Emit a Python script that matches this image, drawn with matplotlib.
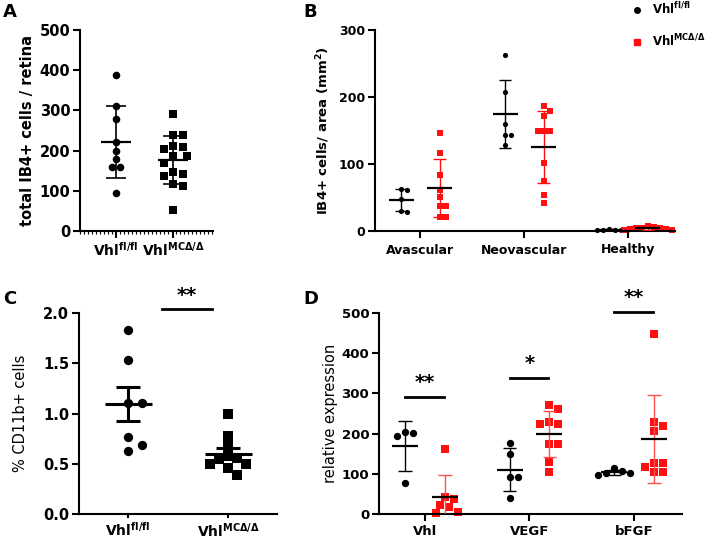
import numpy as np
import matplotlib
matplotlib.use('Agg')
import matplotlib.pyplot as plt
from matplotlib.lines import Line2D
from matplotlib.ticker import MultipleLocator

plt.rcParams['font.family'] = ['DejaVu Sans']
plt.rcParams['font.weight'] = 'bold'
plt.rcParams['mathtext.default'] = 'bf'
plt.rcParams['axes.linewidth'] = 1.5

RED = '#ff1010'

# ---- data ----
# A: total IB4+ cells / retina
a_groups = ['Vhl$^{fl/fl}$', 'Vhl$^{MCΔ/Δ}$']
a_fl = [388, 311, 278, 222, 199, 178, 159, 159, 95]
a_mc = [292, 239, 239, 212, 209, 204, 187, 187, 168, 147, 143, 136, 118, 112, 53]

# B: IB4+ cells / area
b_categories = ['Avascular', 'Neovascular', 'Healthy']
b_fl = [[63, 61, 48, 30, 28],
        [262, 207, 160, 144, 144, 128],
        [1, 2, 1.5, 2, 1, 2.5]]
b_mc = [[146, 117, 84, 61, 51, 37, 37, 21, 21],
        [186, 179, 172, 149, 149, 149, 101, 74, 53, 42],
        [2, 3, 5, 8, 4, 3, 6, 2, 4]]

# C: % CD11b+ cells
c_fl = [1.83, 1.53, 1.10, 1.10, 0.77, 0.69, 0.63]
c_mc = [1.00, 0.78, 0.68, 0.58, 0.56, 0.55, 0.50, 0.50, 0.46, 0.39]
c_sig = '**'
c_sig_y = 2.04

# D: relative expression
d_genes = ['Vhl', 'VEGF', 'bFGF']
d_fl = [[205, 201, 195, 76],
        [176, 149, 93, 93, 41],
        [114, 106, 103, 101, 96]]
d_mc = [[162, 43, 37, 22, 17, 5, 2],
        [272, 261, 228, 224, 224, 174, 174, 130, 104],
        [448, 230, 219, 207, 126, 126, 118, 104, 104]]
d_sig = ['**', '*', '**']
d_sig_y = [291, 338, 502]

fig = plt.figure(figsize=(7.08, 5.4), dpi=100)
W, H = 708, 540


def ax_px(l, t, r, b):
    return fig.add_axes([l / W, 1 - b / H, (r - l) / W, (b - t) / H])


def style(ax, fs, ylabel, ylab_x, ylab_fs, ylab_w='bold'):
    ax.spines['top'].set_visible(False)
    ax.spines['right'].set_visible(False)
    ax.tick_params(width=1.5, length=5, labelsize=fs, pad=2)
    ax.set_ylabel(ylabel, fontsize=ylab_fs, fontweight=ylab_w)
    ax.yaxis.set_label_coords(ylab_x, 0.5)


def swarm(ax, x0, vals, d):
    # simple beeswarm in pixel space
    vals = np.asarray(vals, float)
    pts = ax.transData.transform(np.column_stack([np.full(len(vals), x0), vals]))
    xs = np.empty(len(vals))
    placed = []
    for i in np.argsort(-vals):
        px, py = pts[i]
        for k in range(60):
            off = ((k + 1) // 2) * (1 if k % 2 else -1) * d * 0.5
            ok = all((px + off - qx) ** 2 + (py - qy) ** 2 >= (d * 0.98) ** 2 for qx, qy in placed)
            if ok:
                break
        placed.append((px + off, py))
        xs[i] = ax.transData.inverted().transform((px + off, py))[0]
    return xs


def points(ax, x0, vals, color, marker, size, d):
    xs = swarm(ax, x0, vals, d)
    ax.scatter(xs, vals, s=size, c=color, marker=marker, linewidths=0, zorder=2, clip_on=False)


def stats(ax, x0, vals, hm, hc, ecolor, lw_m, lw_e, sem=False):
    v = np.asarray(vals, float)
    m = v.mean()
    e = v.std(ddof=1)
    if sem:
        e = e / np.sqrt(len(v))
    ax.vlines(x0, m - e, m + e, color=ecolor, lw=lw_e, zorder=3)
    ax.hlines([m - e, m + e], x0 - hc, x0 + hc, color=ecolor, lw=lw_e, zorder=3)
    ax.hlines(m, x0 - hm, x0 + hm, color='black', lw=lw_m, zorder=3)


# ---------------- A ----------------
axA = ax_px(80, 30, 213, 231)
axA.set_xlim(-0.63, 1.70)
axA.set_ylim(0, 500)
axA.set_yticks([0, 100, 200, 300, 400, 500])
axA.set_xticks([0, 1])
axA.set_xticklabels(a_groups)
axA.xaxis.set_minor_locator(MultipleLocator(0.07))
axA.tick_params(axis='x', which='minor', length=2, width=0.8)
style(axA, 10.5, 'total IB4+ cells / retina', -0.34, 10.5)
axA.tick_params(axis='x', labelsize=10)
points(axA, 0, a_fl, 'black', 'o', 30, 8)
points(axA, 1, a_mc, 'black', 's', 30, 9.5)
stats(axA, 0, a_fl, 0.27, 0.17, 'black', 1.6, 1.2)
stats(axA, 1, a_mc, 0.27, 0.17, 'black', 1.6, 1.2)

# ---------------- B ----------------
axB = ax_px(375, 30, 675, 231)
axB.set_xlim(-0.43, 2.45)
axB.set_ylim(0, 300)
axB.set_yticks([0, 100, 200, 300])
axB.set_xticks(range(len(b_categories)))
axB.set_xticklabels(b_categories)
style(axB, 9, 'IB4+ cells/ area (mm$^2$)', -0.143, 9.5)
axB.tick_params(axis='x', pad=4)
for i in range(len(b_categories)):
    points(axB, i - 0.18, b_fl[i], 'black', 'o', 14, 6)
    points(axB, i + 0.19, b_mc[i], RED, 's', 14, 6)
    stats(axB, i - 0.18, b_fl[i], 0.12, 0.06, 'black', 1.6, 1.0)
    stats(axB, i + 0.19, b_mc[i], 0.12, 0.06, RED, 1.6, 1.0)

handles = [Line2D([], [], ls='none', marker='o', color='black', markersize=4),
           Line2D([], [], ls='none', marker='s', color=RED, markersize=4)]
fig.legend(handles, a_groups, loc='upper left', bbox_to_anchor=(630 / W, 1 + 1 / H),
           frameon=False, fontsize=8.5, labelspacing=1.3, handletextpad=0.9,
           handlelength=0.8, borderaxespad=0, borderpad=0.2)

# ---------------- C ----------------
axC = ax_px(79, 313, 277, 514)
axC.set_xlim(-0.49, 1.49)
axC.set_ylim(0, 2.0)
axC.set_yticks([0.0, 0.5, 1.0, 1.5, 2.0])
axC.set_yticklabels(['0.0', '0.5', '1.0', '1.5', '2.0'])
axC.set_xticks([0, 1])
axC.set_xticklabels(a_groups)
style(axC, 10.5, '% CD11b+ cells', -0.26, 10.5, 'normal')
axC.tick_params(axis='x', length=3, labelsize=10)
points(axC, 0, c_fl, 'black', 'o', 45, 14)
points(axC, 1, c_mc, 'black', 's', 45, 9)
stats(axC, 0, c_fl, 0.235, 0.12, 'black', 2.2, 2.2, sem=True)
stats(axC, 1, c_mc, 0.235, 0.12, 'black', 2.2, 2.2, sem=True)
axC.plot([0.34, 0.84], [c_sig_y, c_sig_y], color='black', lw=2, clip_on=False)
axC.text(0.59, c_sig_y + 0.04, c_sig, ha='center', va='bottom', fontsize=14, fontweight='bold')

# ---------------- D ----------------
axD = ax_px(379, 313, 682, 514)
axD.set_xlim(-0.44, 2.46)
axD.set_ylim(0, 500)
axD.set_yticks([0, 100, 200, 300, 400, 500])
axD.set_xticks(range(len(d_genes)))
axD.set_xticklabels(d_genes)
style(axD, 9.5, 'relative expression', -0.135, 10.5, 'normal')
axD.tick_params(axis='x', pad=3)
for i in range(len(d_genes)):
    points(axD, i - 0.19, d_fl[i], 'black', 'o', 28, 8)
    points(axD, i + 0.19, d_mc[i], RED, 's', 28, 9)
    stats(axD, i - 0.19, d_fl[i], 0.125, 0.065, 'black', 1.6, 1.0)
    stats(axD, i + 0.19, d_mc[i], 0.125, 0.065, '#ff5050', 1.6, 1.0)
    axD.plot([i - 0.19, i + 0.18], [d_sig_y[i], d_sig_y[i]], color='black', lw=2, clip_on=False)
    axD.text(i, d_sig_y[i] + 12, d_sig[i], ha='center', va='bottom', fontsize=14, fontweight='bold')

# panel letters
for lab, x, y in [('A', 3, 3), ('B', 303, 3), ('C', 3, 290), ('D', 303, 290)]:
    fig.text(x / W, 1 - y / H, lab, ha='left', va='top', fontsize=13, fontweight='bold')

fig.savefig('out.png', dpi=100)
